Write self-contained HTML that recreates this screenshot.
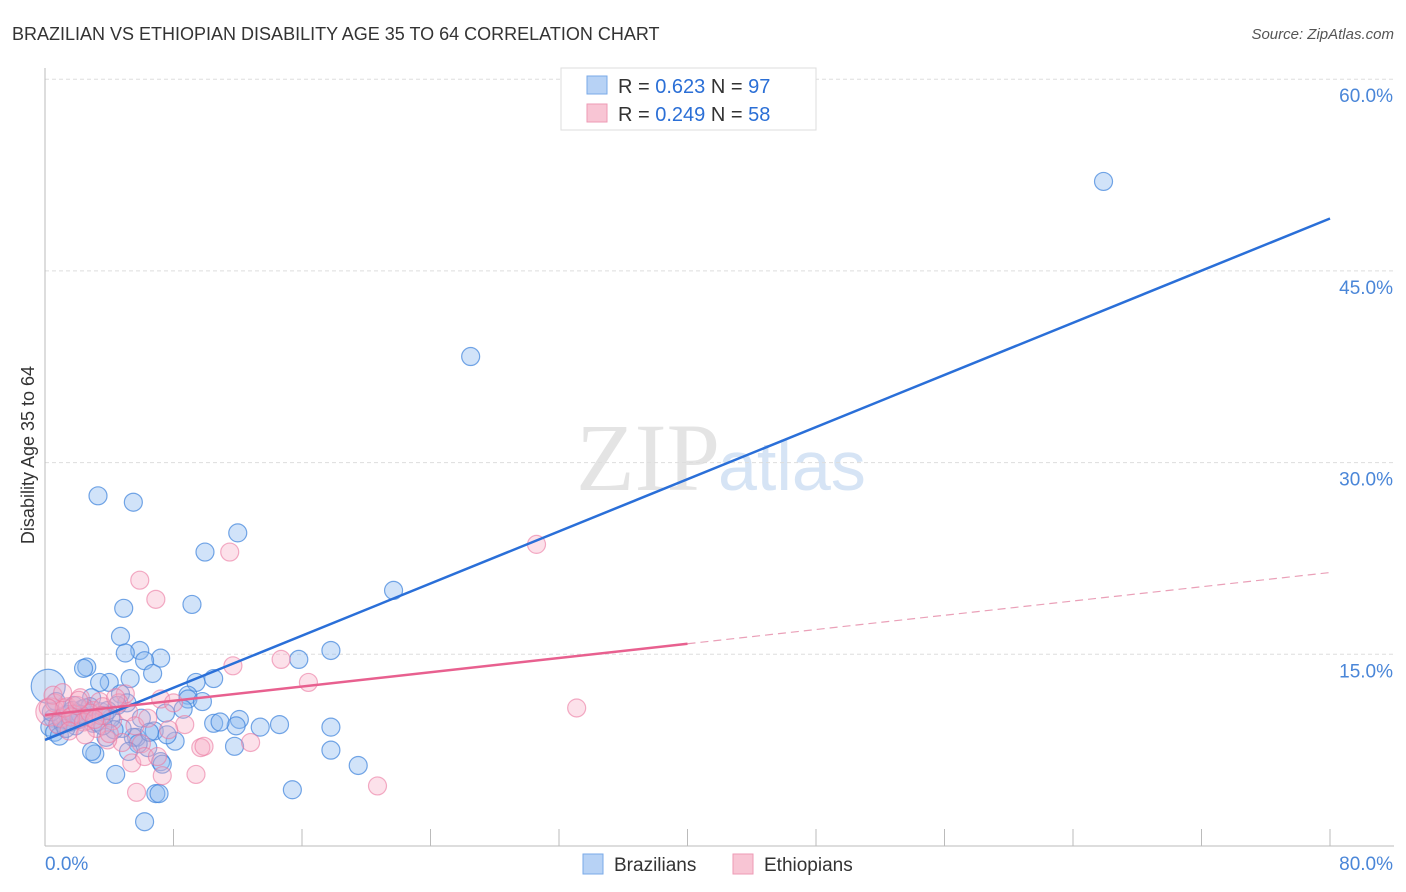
<!DOCTYPE html>
<html><head><meta charset="utf-8">
<style>
body{margin:0;background:#fff;font-family:"Liberation Sans",sans-serif;}
svg{display:block}
</style></head>
<body>
<svg id="chart" width="1406" height="892" xmlns="http://www.w3.org/2000/svg">
<text x="12" y="40" font-size="18" fill="#333">BRAZILIAN VS ETHIOPIAN DISABILITY AGE 35 TO 64 CORRELATION CHART</text>
<text x="1394" y="39" font-size="15" fill="#555" font-style="italic" text-anchor="end">Source: ZipAtlas.com</text>
<text x="720" y="490" font-size="96" fill="#e4e4e4" text-anchor="end" font-family="Liberation Serif,serif">ZIP</text>
<text x="718" y="490" font-size="70" fill="#d6e4f5">atlas</text>
<g id="grid"></g><g id="axes"></g><g id="pts"></g><g id="lines"></g>
<text transform="translate(34,455) rotate(-90)" font-size="18" fill="#333" text-anchor="middle">Disability Age 35 to 64</text>
<g>
<rect x="561" y="68" width="255" height="62" fill="#fff" stroke="#ddd"/>
<rect x="587" y="76" width="20" height="18" fill="#b7d2f5" stroke="#7aaae8"/>
<rect x="587" y="104" width="20" height="18" fill="#f8c5d4" stroke="#ee9ab5"/>
<text x="618" y="93" font-size="20" fill="#333">R = <tspan fill="#2b6fd6">0.623</tspan>   N = <tspan fill="#2b6fd6">97</tspan></text>
<text x="618" y="121" font-size="20" fill="#333">R = <tspan fill="#2b6fd6">0.249</tspan>   N = <tspan fill="#2b6fd6">58</tspan></text>
</g>
<g>
<rect x="583" y="854" width="20" height="20" fill="#b7d2f5" stroke="#7aaae8"/>
<text x="614" y="871" font-size="19" fill="#333">Brazilians</text>
<rect x="733" y="854" width="20" height="20" fill="#f8c5d4" stroke="#ee9ab5"/>
<text x="764" y="871" font-size="19" fill="#333">Ethiopians</text>
</g>
</svg>
<script>
const yTicks=[15,30,45,60];
const yTickLabels=["15.0%","30.0%","45.0%","60.0%"];
const xTickLabels=["0.0%","80.0%"];
const braX=[65.9,26.5,3.3,5.5,12.0,9.96,21.7,9.15,4.9,4.7,17.8,5.9,5.0,7.2,6.2,15.8,2.6,2.4,6.7,5.3,10.5,4.0,3.4,9.4,8.9,8.9,9.8,4.7,2.9,0.2,1.8,17.8,14.6,13.4,12.1,11.9,10.5,10.9,8.6,7.5,11.8,17.8,19.5,15.4,6.9,7.1,6.2,4.4,7.2,7.3,3.1,2.9,8.1,6.4,5.7,5.5,4.8,3.8,0.5,0.8,1.2,1.5,2.0,2.3,2.7,3.0,3.5,4.1,0.3,0.6,1.0,1.4,1.9,2.5,3.2,3.7,4.3,5.1,6.0,6.8,7.6,1.1,1.7,2.1,2.8,0.4,0.9,1.3,4.5,5.8,6.5,3.6,2.2,1.6,0.7,5.2,3.9];
const braY=[52.0,38.3,27.4,26.9,24.5,23.0,20.0,18.9,18.6,16.4,15.3,15.3,15.1,14.7,14.5,14.6,14.0,13.9,13.5,13.1,13.1,12.8,12.8,12.8,11.8,11.5,11.3,11.9,11.6,12.5,11.0,9.3,9.5,9.3,9.9,9.4,9.6,9.7,10.7,10.4,7.8,7.5,6.3,4.4,4.1,4.1,1.9,5.6,6.6,6.4,7.2,7.4,8.2,7.7,8.5,8.5,9.2,8.5,10.0,9.5,10.2,9.8,10.4,10.7,10.1,9.6,10.5,10.0,9.3,8.9,9.9,10.3,9.4,10.8,9.7,10.2,9.1,11.2,10.0,9.0,8.7,9.6,10.6,9.9,10.9,10.5,8.6,9.2,11.0,8.0,8.9,9.4,10.3,9.7,11.3,7.4,10.6];
const ethX=[30.6,11.5,5.9,6.9,11.7,14.7,16.4,33.1,20.7,5.7,9.4,7.3,8.7,9.7,9.9,7.2,5.0,12.8,7.7,6.0,4.8,5.4,6.2,3.9,0.3,0.6,1.0,1.4,1.8,2.2,2.6,3.0,3.4,0.8,1.2,1.6,2.0,2.4,2.8,3.2,3.6,4.2,4.6,5.2,5.6,6.4,7.0,8.0,0.5,1.5,2.5,3.5,4.4,0.2,1.1,2.1,3.1,4.0];
const ethY=[23.6,23.0,20.8,19.3,14.1,14.6,12.8,10.8,4.7,4.2,5.6,5.5,9.5,7.7,7.8,11.5,11.9,8.1,9.1,8.0,8.1,6.5,7.0,8.3,10.5,11.2,10.0,10.9,10.3,11.6,9.8,10.6,11.3,9.5,10.8,10.1,11.0,9.7,10.4,9.2,10.9,9.8,11.2,10.5,9.4,10.0,7.0,11.2,11.8,9.0,8.7,10.2,11.6,10.8,12.0,11.4,9.9,8.8];
const braLine=[8.3,49.1];
const ethLine=[10.25,21.4];
const ethSolidEnd=40;
const NS="http://www.w3.org/2000/svg";
const X=v=>45+v*(1285/80), Y=v=>846-v*12.78;
function mk(t,a,p){const e=document.createElementNS(NS,t);for(const k in a)e.setAttribute(k,a[k]);p.appendChild(e);return e;}
const grid=document.getElementById('grid'),axes=document.getElementById('axes'),pts=document.getElementById('pts'),lines=document.getElementById('lines');
yTicks.forEach((t,i)=>{const l=mk('line',{x1:45,x2:1394,y1:Y(t),y2:Y(t),stroke:'#ddd','stroke-dasharray':'4,3'},grid);


const tx=mk('text',{x:1393,y:Y(t)+23,'font-size':19,fill:'#4a86d8','text-anchor':'end'},axes);tx.textContent=yTickLabels[i];

});
const ax=mk('line',{x1:45,x2:45,y1:68,y2:846,stroke:'#bbb'},axes);


const bx=mk('line',{x1:45,x2:1394,y1:846,y2:846,stroke:'#bbb'},axes);


for(let i=1;i<=10;i++){const t=mk('line',{x1:X(i*8),x2:X(i*8),y1:829,y2:846,stroke:'#bbb'},axes);

}
[[0,45,'start'],[80,1393,'end']].forEach((d,i)=>{const t=mk('text',{x:d[1],y:870,'font-size':19,fill:'#4a86d8','text-anchor':d[2]},axes);t.textContent=xTickLabels[i];

});
braX.forEach((x,i)=>{const c=mk('circle',{cx:X(x),cy:Y(braY[i]),r:(i==29?17:9),fill:'rgba(140,185,240,0.4)',stroke:'rgba(60,130,220,0.7)','stroke-width':1.2},pts);

});
ethX.forEach((x,i)=>{const c=mk('circle',{cx:X(x),cy:Y(ethY[i]),r:(i==24?14:9),fill:'rgba(246,170,195,0.35)',stroke:'rgba(235,120,160,0.6)','stroke-width':1.2},pts);

});
const bl=mk('line',{x1:X(0),y1:Y(braLine[0]),x2:X(80),y2:Y(braLine[1]),stroke:'#2a6fd8','stroke-width':2.5},lines);


const ey=x=>ethLine[0]+(ethLine[1]-ethLine[0])*x/80;
const el=mk('line',{x1:X(0),y1:Y(ey(0)),x2:X(ethSolidEnd),y2:Y(ey(ethSolidEnd)),stroke:'#e8608f','stroke-width':2.5},lines);


const ed=mk('line',{x1:X(ethSolidEnd),y1:Y(ey(ethSolidEnd)),x2:X(80),y2:Y(ey(80)),stroke:'#eaa0b8','stroke-width':1.2,'stroke-dasharray':'8,5'},lines);


</script>
</body></html>
